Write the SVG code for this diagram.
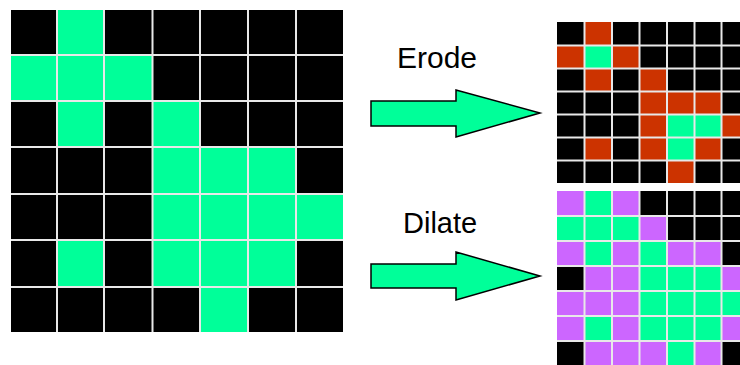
<svg xmlns="http://www.w3.org/2000/svg" width="740" height="365" viewBox="0 0 740 365">
  <style>
    .bg { fill: #000000; }
    .on { fill: #00FF99; }
    .er { fill: #CC3300; }
    .di { fill: #CC66FF; }
    .grid { stroke: #e8e8e8; stroke-width: 2; fill: none; }
    .arrow { fill: #00FF99; stroke: #000000; stroke-width: 1.5; stroke-linejoin: miter; }
    .label { font-family: "Liberation Sans", Arial, sans-serif; fill: #000000; }
  </style>

  <!-- Source image: 7x7 binary grid -->
  <g id="source-grid">
    <rect class="bg" x="11" y="10" width="332" height="322"/>
    <rect class="on" x="57" y="10" width="47" height="45"/>
    <rect class="on" x="11" y="55" width="141.5" height="46"/>
    <rect class="on" x="57" y="101" width="47" height="46"/>
    <rect class="on" x="152.5" y="101" width="47.5" height="46"/>
    <rect class="on" x="152.5" y="147" width="143.5" height="140"/>
    <rect class="on" x="296" y="194" width="47" height="46"/>
    <rect class="on" x="57" y="240" width="47" height="47"/>
    <rect class="on" x="200" y="287" width="48" height="45"/>
    <path class="grid" d="M57,10V332 M104,10V332 M152.5,10V332 M200,10V332 M248,10V332 M296,10V332
                          M11,55H343 M11,101H343 M11,147H343 M11,194H343 M11,240H343 M11,287H343"/>
  </g>

  <!-- Erosion result: kept pixels green, removed pixels red -->
  <g id="eroded-grid">
    <rect class="bg" x="557" y="22" width="192" height="161"/>
    <rect class="er" x="584.5" y="22" width="27.5" height="23.5"/>
    <rect class="er" x="557" y="45.5" width="82.5" height="23"/>
    <rect class="on" x="584.5" y="45.5" width="27.5" height="23"/>
    <rect class="er" x="584.5" y="68.5" width="27.5" height="23"/>
    <rect class="er" x="639.5" y="68.5" width="27.5" height="23"/>
    <rect class="er" x="639.5" y="91.5" width="82" height="23"/>
    <rect class="er" x="639.5" y="114.5" width="109.5" height="23"/>
    <rect class="on" x="667" y="114.5" width="54.5" height="23"/>
    <rect class="er" x="584.5" y="137.5" width="27.5" height="23"/>
    <rect class="er" x="639.5" y="137.5" width="82" height="23"/>
    <rect class="on" x="667" y="137.5" width="27.5" height="23"/>
    <rect class="er" x="667" y="160.5" width="27.5" height="22.5"/>
    <path class="grid" d="M584.5,22V183 M612,22V183 M639.5,22V183 M667,22V183 M694.5,22V183 M721.5,22V183
                          M557,45.5H749 M557,68.5H749 M557,91.5H749 M557,114.5H749 M557,137.5H749 M557,160.5H749"/>
  </g>

  <!-- Dilation result: original pixels green, added pixels purple -->
  <g id="dilated-grid">
    <rect class="bg" x="557" y="191" width="192" height="176"/>
    <!-- row 0 -->
    <rect class="di" x="557" y="191" width="82.5" height="25"/>
    <rect class="on" x="584.5" y="191" width="27.5" height="25"/>
    <!-- row 1 -->
    <rect class="on" x="557" y="216" width="82.5" height="25"/>
    <rect class="di" x="639.5" y="216" width="27.5" height="25"/>
    <!-- row 2 -->
    <rect class="di" x="557" y="241" width="164.5" height="25"/>
    <rect class="on" x="584.5" y="241" width="27.5" height="25"/>
    <rect class="on" x="639.5" y="241" width="27.5" height="25"/>
    <!-- row 3 -->
    <rect class="di" x="584.5" y="266" width="164.5" height="25"/>
    <rect class="on" x="639.5" y="266" width="82" height="25"/>
    <!-- row 4 -->
    <rect class="di" x="557" y="291" width="82.5" height="25"/>
    <rect class="on" x="639.5" y="291" width="109.5" height="25"/>
    <!-- row 5 -->
    <rect class="di" x="557" y="316" width="192" height="25"/>
    <rect class="on" x="584.5" y="316" width="27.5" height="25"/>
    <rect class="on" x="639.5" y="316" width="82" height="25"/>
    <!-- row 6 -->
    <rect class="di" x="584.5" y="341" width="137" height="26"/>
    <rect class="on" x="667" y="341" width="27.5" height="26"/>
    <path class="grid" d="M584.5,191V367 M612,191V367 M639.5,191V367 M667,191V367 M694.5,191V367 M721.5,191V367
                          M557,216H749 M557,241H749 M557,266H749 M557,291H749 M557,316H749 M557,341H749"/>
  </g>

  <!-- Operation arrows -->
  <g id="connectors">
    <path id="arrow-erode" class="arrow" d="M371,101H456V90L540,113L456,137V126H371Z"/>
    <path id="arrow-dilate" class="arrow" d="M371,264H456V252L540,276L456,300V288H371Z"/>
  </g>

  <g id="label-erode">
    <text class="label" x="397" y="68" font-size="30">Erode</text>
  </g>
  <g id="label-dilate">
    <text class="label" x="403" y="233" font-size="29">Dilate</text>
  </g>
</svg>
